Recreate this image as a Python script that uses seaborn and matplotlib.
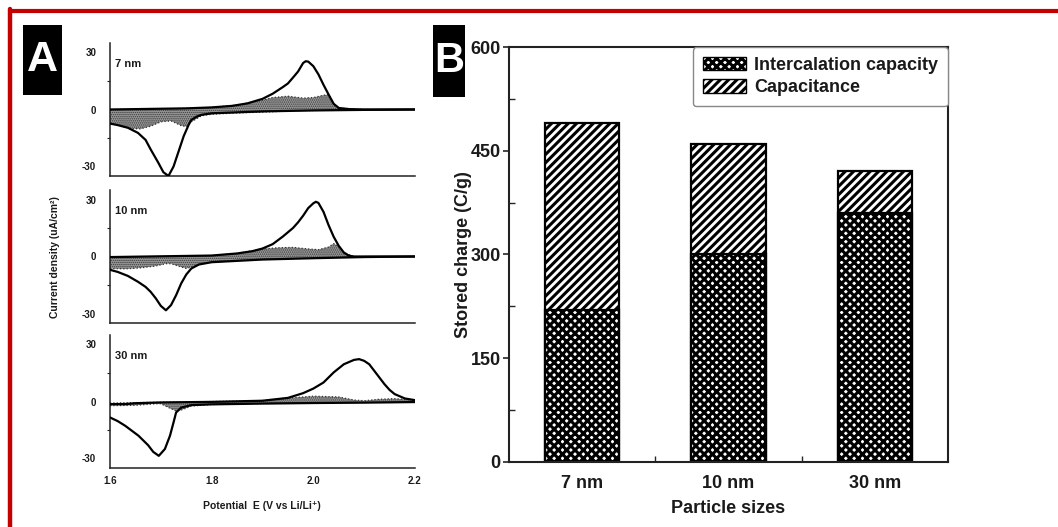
import matplotlib
matplotlib.use('Agg')
import matplotlib.pyplot as plt
import seaborn as sns
from matplotlib.patches import Patch, Rectangle
from matplotlib.lines import Line2D

# ---- panel A: cyclic voltammograms (total current + capacitive part) ----
# 7 nm
up_e_7 = [1.60, 1.65, 1.70, 1.75, 1.80, 1.84, 1.87, 1.90, 1.92, 1.94, 1.95, 1.96, 1.97,
          1.98, 1.985, 1.99, 2.00, 2.01, 2.02, 2.03, 2.04, 2.05, 2.07, 2.10, 2.15, 2.20]
up_i_7 = [0.0, 0.2, 0.4, 0.6, 1.1, 1.9, 3.2, 5.6, 8.3, 11.8, 13.7, 16.8, 20.0,
          24.5, 25.4, 25.2, 22.8, 18.5, 13.0, 7.9, 3.0, 0.8, 0.2, 0.0, 0.0, 0.0]
dn_e_7 = [2.20, 2.10, 2.00, 1.90, 1.80, 1.78, 1.77, 1.76, 1.755, 1.745, 1.735, 1.725,
          1.715, 1.705, 1.695, 1.68, 1.67, 1.655, 1.635, 1.615, 1.60]
dn_i_7 = [0.0, -0.2, -0.5, -1.0, -2.0, -2.8, -3.8, -5.5, -7.9, -14.0, -22.0, -30.0,
          -35.0, -33.0, -28.0, -21.0, -16.0, -12.3, -9.6, -8.2, -7.4]
cap_e_7 = [1.60, 1.62, 1.64, 1.66, 1.68, 1.70, 1.72, 1.74, 1.75, 1.76, 1.78, 1.80,
           1.85, 1.90, 1.92, 1.95, 1.98, 2.00, 2.02, 2.03, 2.04, 2.05, 2.10, 2.20]
cap_hi_7 = [0.0, 0.1, 0.1, 0.2, 0.3, 0.4, 0.4, 0.5, 0.6, 0.6, 0.8, 1.1,
            2.3, 5.0, 6.3, 7.0, 6.0, 6.3, 7.5, 7.9, 3.0, 0.8, 0.0, 0.0]
cap_lo_7 = [-7.4, -8.5, -10.0, -10.2, -8.8, -6.5, -6.0, -8.5, -9.0, -6.5, -3.3, -2.5,
            -1.8, -1.4, -1.2, -0.8, -0.6, -0.5, -0.4, -0.3, -0.3, -0.2, -0.1, 0.0]

# 10 nm
up_e_10 = [1.60, 1.65, 1.70, 1.75, 1.80, 1.85, 1.88, 1.90, 1.92, 1.94, 1.96, 1.97, 1.98,
           1.99, 2.00, 2.005, 2.01, 2.02, 2.03, 2.04, 2.05, 2.06, 2.07, 2.08, 2.10, 2.20]
up_i_10 = [-0.3, -0.1, 0.1, 0.3, 0.5, 1.6, 2.8, 4.2, 6.5, 10.5, 15.0, 18.0, 21.5,
           25.5, 28.0, 28.8, 28.2, 23.5, 16.5, 10.4, 5.6, 2.1, 0.4, 0.0, 0.0, 0.0]
dn_e_10 = [2.20, 2.10, 2.00, 1.90, 1.80, 1.775, 1.76, 1.75, 1.74, 1.73, 1.72, 1.71,
           1.70, 1.69, 1.68, 1.67, 1.655, 1.635, 1.615, 1.60]
dn_i_10 = [0.0, -0.3, -0.9, -1.6, -3.0, -4.2, -6.3, -9.5, -14.2, -20.4, -25.6, -28.3,
           -26.0, -22.0, -18.6, -16.0, -13.3, -10.2, -8.1, -7.0]
cap_e_10 = [1.60, 1.63, 1.66, 1.69, 1.71, 1.72, 1.74, 1.75, 1.76, 1.78, 1.80, 1.85,
            1.90, 1.93, 1.96, 1.99, 2.01, 2.03, 2.04, 2.05, 2.06, 2.08, 2.20]
cap_hi_10 = [-0.3, -0.2, -0.1, 0.0, 0.1, 0.1, 0.2, 0.3, 0.3, 0.4, 0.5, 1.6,
             4.0, 4.6, 4.8, 4.0, 3.6, 5.0, 6.8, 5.4, 2.1, 0.0, 0.0]
cap_lo_10 = [-6.3, -6.5, -6.0, -5.0, -3.8, -3.8, -5.5, -6.3, -5.5, -3.8, -2.8, -2.0,
             -1.5, -1.2, -1.0, -0.9, -0.8, -0.7, -0.6, -0.5, -0.4, -0.3, 0.0]

# 30 nm
up_e_30 = [1.60, 1.63, 1.65, 1.70, 1.80, 1.90, 1.95, 1.98, 2.00, 2.02, 2.04, 2.06,
           2.08, 2.09, 2.10, 2.11, 2.12, 2.13, 2.14, 2.15, 2.16, 2.18, 2.20]
up_i_30 = [-1.4, -1.4, -0.9, -0.5, -0.2, 0.4, 1.9, 4.4, 6.8, 10.0, 15.3, 19.6,
           21.9, 22.3, 21.4, 19.6, 16.1, 12.6, 9.1, 6.1, 3.9, 1.6, 0.7]
dn_e_30 = [2.20, 2.10, 2.00, 1.90, 1.80, 1.76, 1.74, 1.73, 1.725, 1.718, 1.708, 1.696,
           1.685, 1.675, 1.656, 1.63, 1.615, 1.60]
dn_i_30 = [-0.3, -0.6, -0.8, -1.1, -1.5, -1.9, -3.2, -5.8, -11.0, -18.0, -25.0, -28.6,
           -26.5, -23.0, -18.0, -12.8, -10.3, -8.4]
cap_e_30 = [1.60, 1.65, 1.69, 1.70, 1.72, 1.73, 1.74, 1.76, 1.80, 1.90, 1.95, 2.00,
            2.05, 2.08, 2.10, 2.13, 2.16, 2.20]
cap_hi_30 = [-0.8, -0.6, -0.4, -0.4, -0.3, -0.3, -0.3, -0.2, 0.0, 0.5, 1.8, 2.8,
             2.4, 0.8, 0.4, 1.2, 1.5, 0.8]
cap_lo_30 = [-2.2, -2.0, -1.2, -1.2, -3.8, -5.0, -4.5, -2.4, -1.6, -1.1, -0.9, -0.7,
             -0.6, -0.5, -0.5, -0.4, -0.3, -0.2]

size_labels = ['7 nm', '10 nm', '30 nm']

# ---- panel B: stored charge ----
sizes = ['7 nm', '10 nm', '30 nm']
intercalation = [220, 300, 360]
total_charge = [490, 460, 420]

sns.set_theme(style='white')
plt.rcParams['font.family'] = ['Liberation Sans', 'DejaVu Sans']
plt.rcParams['axes.unicode_minus'] = False
plt.rcParams['hatch.linewidth'] = 2.2

W, H = 1058, 527


def fig_box(x0, y0, x1, y1):
    return [x0 / W, 1 - y1 / H, (x1 - x0) / W, (y1 - y0) / H]


def set_hatch_lw(artist, lw):
    if hasattr(artist, 'set_hatch_linewidth'):
        artist.set_hatch_linewidth(lw)


fig = plt.figure(figsize=(W / 100, H / 100), dpi=100)
txt = '#1a1a1a'

panels = [
    (up_e_7, up_i_7, dn_e_7, dn_i_7, cap_e_7, cap_hi_7, cap_lo_7),
    (up_e_10, up_i_10, dn_e_10, dn_i_10, cap_e_10, cap_hi_10, cap_lo_10),
    (up_e_30, up_i_30, dn_e_30, dn_i_30, cap_e_30, cap_hi_30, cap_lo_30),
]
boxes = [(110, 43, 415, 176), (110, 190, 415, 323), (110, 335, 415, 468)]

for k, (ue, ui, de, di, ce, chi, clo) in enumerate(panels):
    ax = fig.add_axes(fig_box(*boxes[k]))
    ax.set_facecolor('none')
    plt.rcParams['hatch.linewidth'] = 0.7
    fb = ax.fill_between(ce, clo, chi, facecolor='#999999', edgecolor='#3a3a3a',
                         hatch='........', linewidth=0, zorder=1)
    set_hatch_lw(fb, 0.7)
    plt.rcParams['hatch.linewidth'] = 2.2
    ax.plot(ce, chi, ls=':', color='#333333', lw=0.9, zorder=2)
    ax.plot(ce, clo, ls=':', color='#333333', lw=0.9, zorder=2)
    sns.lineplot(x=ue, y=ui, sort=False, estimator=None, color='black', lw=1.6, ax=ax, zorder=3)
    sns.lineplot(x=de, y=di, sort=False, estimator=None, color='black', lw=1.6, ax=ax, zorder=3)
    ax.set_xlim(1.6, 2.2)
    ax.set_ylim(-35, 35)
    for s in ['top', 'right']:
        ax.spines[s].set_visible(False)
    for s in ['left', 'bottom']:
        ax.spines[s].set_linewidth(1.1)
        ax.spines[s].set_color('#222222')
    ax.set_xticks([1.6, 1.7, 1.8, 1.9, 2.0, 2.1, 2.2])
    if k == 2:
        ax.set_xticklabels(['1.6', '', '1.8', '', '2.0', '', '2.2'])
    else:
        ax.set_xticklabels([])
    ax.set_yticks([-30, 0, 30])
    ax.set_yticks([-15, 15], minor=True)
    ax.tick_params(axis='x', direction='in', length=4, width=1, pad=6,
                   labelsize=7, colors='#222222')
    ax.tick_params(axis='y', which='major', direction='out', length=5, width=1, pad=5,
                   labelsize=7, colors='#222222')
    ax.tick_params(axis='y', which='minor', direction='out', length=2, width=0.8, left=True)
    for lab in ax.get_xticklabels() + ax.get_yticklabels():
        lab.set_fontweight('bold')
        lab.set_color(txt)
    ax.set_xlabel('')
    ax.set_ylabel('')
    ax.text(0.015, 0.845, size_labels[k], transform=ax.transAxes, fontsize=8,
            fontweight='bold', va='center', ha='left', color=txt)

fig.text(55 / W, 1 - 257 / H, 'Current density (uA/cm²)', rotation=90, ha='center',
         va='center', fontsize=7.5, fontweight='bold', color=txt)
fig.text(262 / W, 1 - 506 / H, 'Potential  E (V vs Li/Li⁺)', ha='center', va='center',
         fontsize=7.5, fontweight='bold', color=txt)

# ---- panel B ----
axB = fig.add_axes(fig_box(509, 47, 948, 462))
plt.rcParams['hatch.linewidth'] = 2.2
sns.barplot(x=sizes, y=total_charge, color='white', edgecolor='black', linewidth=1.6,
            width=0.51, hatch='////', saturation=1, errorbar=None, ax=axB)
sns.barplot(x=sizes, y=intercalation, color='white', edgecolor='black', linewidth=1.6,
            width=0.51, hatch='xxxx', saturation=1, errorbar=None, ax=axB)
for p in axB.patches:
    set_hatch_lw(p, 2.2)

axB.set_xlim(-0.5, 2.5)
axB.set_ylim(0, 600)
axB.set_yticks([0, 150, 300, 450, 600])
axB.set_yticks([75, 225, 375, 525], minor=True)
axB.set_xticks([0.5, 1.5], minor=True)
axB.tick_params(axis='y', which='major', direction='out', length=4, width=1.2, pad=2,
                labelsize=13, left=True)
axB.tick_params(axis='y', which='minor', direction='in', length=4, width=1, left=True)
axB.tick_params(axis='x', which='major', length=0, pad=9, labelsize=13)
axB.tick_params(axis='x', which='minor', direction='in', length=4, width=1, bottom=True)
for lab in axB.get_xticklabels() + axB.get_yticklabels():
    lab.set_fontweight('bold')
    lab.set_color(txt)
for s in axB.spines.values():
    s.set_visible(True)
    s.set_linewidth(1.5)
    s.set_color('#222222')

axB.set_ylabel('Stored charge (C/g)', fontsize=13, fontweight='bold', color=txt)
axB.yaxis.set_label_coords(-0.085, 0.5)
axB.set_xlabel('Particle sizes', fontsize=13, fontweight='bold', color=txt)
axB.xaxis.set_label_coords(0.5, -0.092)

handles = [Patch(facecolor='white', edgecolor='black', hatch='xxxx', label='Intercalation capacity'),
           Patch(facecolor='white', edgecolor='black', hatch='////', label='Capacitance')]
leg = axB.legend(handles=handles, loc='upper right', borderaxespad=0, fancybox=True,
                 edgecolor='#888888', framealpha=1, prop={'weight': 'bold', 'size': 13},
                 handlelength=2.4, handleheight=0.75, borderpad=0.55, labelspacing=0.3,
                 handletextpad=0.45)
for t in leg.get_texts():
    t.set_color(txt)
for p in leg.get_patches():
    set_hatch_lw(p, 2.2)

# ---- panel letters and red frame ----
fig.add_artist(Rectangle((23 / W, 1 - 95 / H), 39 / W, 70 / H, transform=fig.transFigure,
                         facecolor='black', edgecolor='none'))
fig.text(42.5 / W, 1 - 60 / H, 'A', color='white', fontsize=31, fontweight='bold',
         ha='center', va='center')
fig.add_artist(Rectangle((433 / W, 1 - 97 / H), 32 / W, 72 / H, transform=fig.transFigure,
                         facecolor='black', edgecolor='none'))
fig.text(449 / W, 1 - 61 / H, 'B', color='white', fontsize=30, fontweight='bold',
         ha='center', va='center')

fig.add_artist(Line2D([9.5 / W, 1], [1 - 10.7 / H, 1 - 10.7 / H], transform=fig.transFigure,
                      color='#c40000', lw=3))
fig.add_artist(Line2D([9.5 / W, 9.5 / W], [0, 1 - 9 / H], transform=fig.transFigure,
                      color='#c40000', lw=3.2))

fig.savefig('out.png', dpi=100)
